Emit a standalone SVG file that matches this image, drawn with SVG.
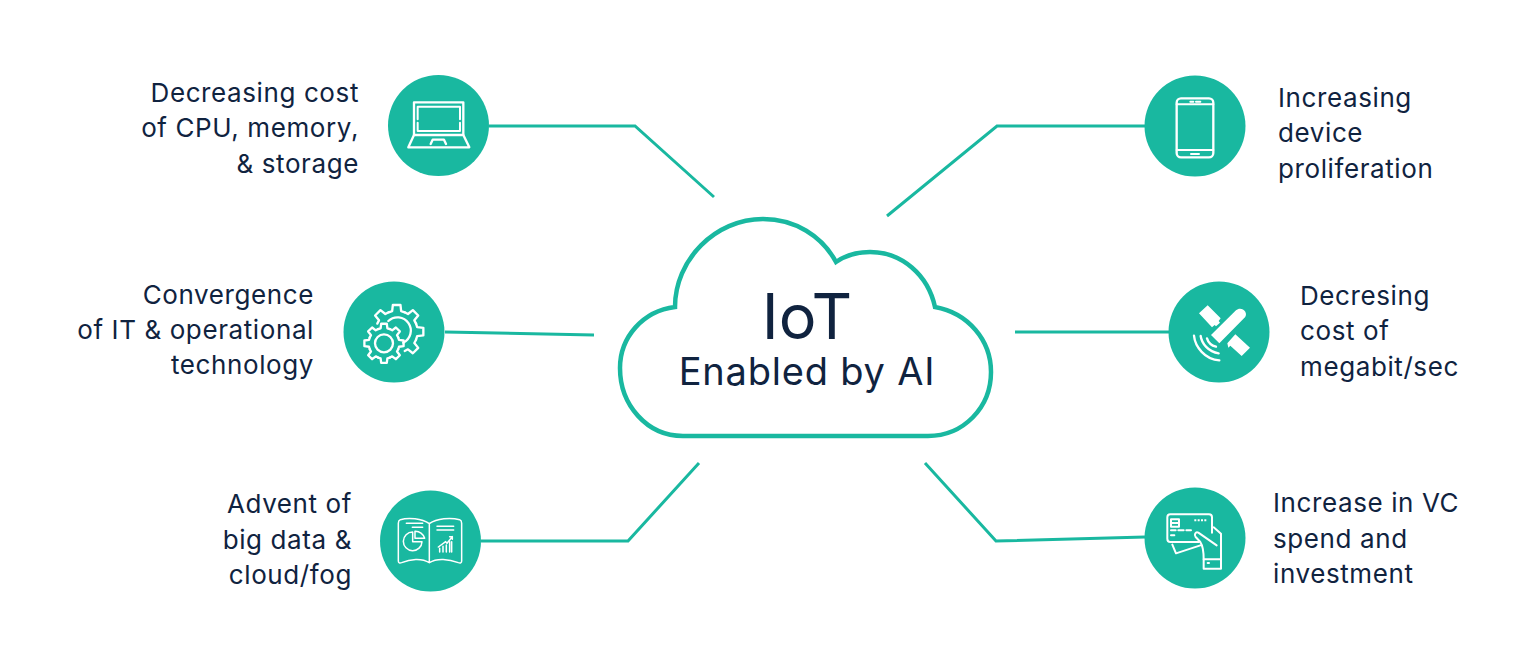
<svg xmlns="http://www.w3.org/2000/svg" width="1536" height="666" viewBox="0 0 1536 666">
<style>
.t{font-family:Inter,"Open Sans",sans-serif;font-size:26px;fill:#10233f;letter-spacing:.6px}
.e{text-anchor:end}
.c{fill:#19b8a0}
.l{fill:none;stroke:#19b8a0;stroke-width:3}
.i{fill:none;stroke:#fff;stroke-width:7;stroke-linejoin:round;stroke-linecap:round}
.s{fill:#fff;stroke:none}
.m{text-anchor:middle;font-family:Inter,"Open Sans",sans-serif;fill:#10233f}
</style>
<defs>
<path id="gs" d="M-17.7-42.7L-10.2-45L-8.4-58.8L8.4-58.8L10.2-45L17.7-42.7"/>
<path id="gl" d="M-24-58.2L-13.5-61.5L-11.4-80.1L11.4-80.1L13.5-61.5L24-58.2"/>
</defs>
<rect width="1536" height="666" fill="#fff"/>
<g id="connectors" class="l">
<path d="M489 126H635L714 197"/>
<path d="M445 332L594 335"/>
<path d="M481 541H628L699 463"/>
<path d="M1145 126H997L887 216"/>
<path d="M1170 332H1015"/>
<path d="M1145 537L996 541L925 463"/>
</g>
<g id="cloud">
<path d="M675 307C675 260 715 219 763 219C795 219 822 236 836 262C846 255 858 252 870 252C902 252 928 275 935 307C968 313 991 340 991 372C991 408 963 436 928 436H683C647 436 620 405 620 368C620 337 643 311 675 307Z" fill="#fff" stroke="#19b8a0" stroke-width="4.5"/>
<text class="m" x="807" y="339" font-size="63">IoT</text>
<text class="m" x="807" y="385" font-size="38" letter-spacing=".8">Enabled by AI</text>
</g>
<g id="node-cpu">
<circle class="c" cx="438.5" cy="125.5" r="50.5"/>
<g class="i" transform="translate(380 70) scale(.3333)">
<path d="M102 195V97H250V195"/>
<path d="M113 148V110H240V148M113 158V183H240V158" style="stroke-width:6"/>
<path d="M102 195L85 232H268L250 195Z"/>
<path d="M152 222L158 209H192L198 222"/>
</g>
<text class="t e" x="359" y="102">Decreasing cost</text>
<text class="t e" x="359" y="137">of CPU, memory,</text>
<text class="t e" x="359" y="173">&amp; storage</text>
</g>
<g id="node-it">
<circle class="c" cx="394" cy="332" r="50.5"/>
<g class="i" transform="translate(335 275) scale(.3333)">
<g transform="translate(185 170)">
<use href="#gl"/>
<use href="#gl" transform="rotate(45)"/>
<use href="#gl" transform="rotate(90)"/>
<use href="#gl" transform="rotate(135)"/>
<use href="#gl" transform="rotate(-45)"/>
</g>
<path d="M160 138A40 40 0 1 1 205 203"/>
<g transform="translate(147 205)">
<circle r="45" fill="#19b8a0" stroke="none"/>
<use href="#gs"/>
<use href="#gs" transform="rotate(45)"/>
<use href="#gs" transform="rotate(90)"/>
<use href="#gs" transform="rotate(135)"/>
<use href="#gs" transform="rotate(180)"/>
<use href="#gs" transform="rotate(225)"/>
<use href="#gs" transform="rotate(270)"/>
<use href="#gs" transform="rotate(315)"/>
<circle r="27"/>
</g>
</g>
<text class="t e" x="314" y="304">Convergence</text>
<text class="t e" x="314" y="339">of IT &amp; operational</text>
<text class="t e" x="314" y="374">technology</text>
</g>
<g id="node-data">
<circle class="c" cx="430.5" cy="541" r="50.5"/>
<g class="i" transform="translate(375 485) scale(.3333)" style="stroke-width:4.5">
<path d="M163 116C140 100 100 97 76 104C71 106 70 110 70 115V228C70 234 74 235 80 233C105 222 140 218 163 233C186 218 222 222 250 233C256 235 260 234 260 228V115C260 110 259 106 254 104C226 97 186 100 163 116V233"/>
<path d="M94 115H143M112 127H143M186 124H236M186 135H236"/>
<path d="M113 141A28 28 0 1 0 141 170H113Z"/>
<path d="M120 139A29 29 0 0 1 149 160H120Z" fill="#19b8a0"/>
<path d="M190 186L212 170L216 175L232 155M224 155H232V163"/>
<path d="M194 190V201M204 184V201M214 180V201M224 170V201M230 170V201"/>
</g>
<text class="t e" x="352" y="513">Advent of</text>
<text class="t e" x="352" y="549">big data &amp;</text>
<text class="t e" x="352" y="584">cloud/fog</text>
</g>
<g id="node-device">
<circle class="c" cx="1195" cy="126" r="50.5"/>
<g class="i" transform="translate(1135 70) scale(.3333)">
<rect x="125" y="85" width="110" height="177" rx="13"/>
<path d="M125 103H235M125 240H235" style="stroke-width:6"/>
<path d="M166 95H175M183 95H196M168 252H192" style="stroke-width:6"/>
</g>
<text class="t" x="1278" y="107">Increasing</text>
<text class="t" x="1278" y="142">device</text>
<text class="t" x="1278" y="178">proliferation</text>
</g>
<g id="node-mbit">
<circle class="c" cx="1219" cy="332" r="50.5"/>
<g transform="translate(1160 275) scale(.3333)">
<path class="s" d="M117 115L143 91L182 130L176 138L180 143L168 154L164 150L156 157Z"/>
<path class="s" d="M202 205L226 178L270 218L245 243L211 212L205 218Z"/>
<path class="s" d="M153 180L228 106C236 98 250 100 256 110C260 118 258 124 252 130L178 205Z"/>
<g class="i">
<path d="M102 182C105 215 135 254 178 256"/>
<path d="M122 183C125 205 145 231 176 235"/>
<path d="M141 190C145 203 155 212 168 215"/>
</g>
</g>
<text class="t" x="1300" y="305">Decresing</text>
<text class="t" x="1300" y="340">cost of</text>
<text class="t" x="1300" y="376">megabit/sec</text>
</g>
<g id="node-vc">
<circle class="c" cx="1195" cy="538" r="50.5"/>
<g class="i" transform="translate(1135 482) scale(.3333)" style="stroke-width:6">
<path d="M192 180H106C100 180 97 176 97 170V106C97 100 100 97 106 97H222C228 97 231 100 231 106V152"/>
<path d="M108 112H132V134H108ZM108 123H118M122 123H132"/>
<path d="M178 115H216" stroke-dasharray="6 4" style="stroke-linecap:butt"/>
<path d="M108 145H122M130 145H146M154 145H168M108 160H118"/>
<path d="M112 188L123 214L196 190"/>
<path d="M245 190L190 152C182 148 176 158 182 165L196 180C204 192 206 205 206 232"/>
<path d="M236 136L258 155V232"/>
<path d="M206 232H258V260H206Z"/>
<path d="M218 243H222"/>
</g>
<text class="t" x="1273" y="512">Increase in VC</text>
<text class="t" x="1273" y="548">spend and</text>
<text class="t" x="1273" y="583">investment</text>
</g>
</svg>
